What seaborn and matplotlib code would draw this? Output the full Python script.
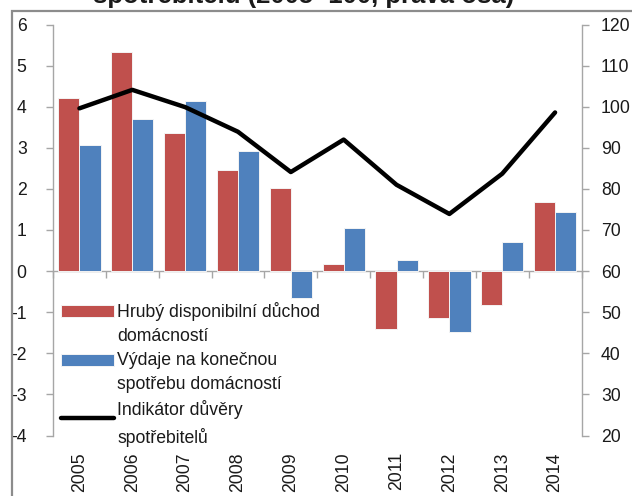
import matplotlib
matplotlib.use('Agg')
import matplotlib.pyplot as plt
import seaborn as sns
import numpy as np
import pandas as pd
from matplotlib.patches import Rectangle, Patch
from matplotlib.lines import Line2D
from matplotlib.legend_handler import HandlerPatch, HandlerLine2D

# ---- data ----
years = ['2005', '2006', '2007', '2008', '2009', '2010', '2011', '2012', '2013', '2014']
disp_income = [4.20, 5.33, 3.35, 2.47, 2.03, 0.17, -1.42, -1.14, -0.83, 1.67]
consumption = [3.07, 3.70, 4.14, 2.91, -0.66, 1.04, 0.28, -1.48, 0.70, 1.45]
confidence = [99.6, 104.1, 99.9, 93.9, 84.1, 92.0, 81.0, 73.9, 83.7, 98.6]

series_labels = ['Hrubý disponibilní důchod\ndomácností',
                 'Výdaje na konečnou\nspotřebu domácností',
                 'Indikátor důvěry\nspotřebitelů']
title_text = 'spotřebitelů (2005=100, pravá osa)'
left_ticks = list(range(-4, 7))
right_ticks = list(range(20, 121, 10))

RED = '#C0504D'
BLUE = '#4F81BD'
GRAY = '#a6a6a6'
TXT = '#1a1a1a'
FS = 12.7

sns.set_theme(style='white')
plt.rcParams['font.family'] = ['Liberation Sans', 'DejaVu Sans']

W, H = 632, 496
fig = plt.figure(figsize=(W / 100, H / 100), dpi=100)
fig.patch.set_facecolor('white')
L, R, T, B = 53, 581.5, 24.5, 435.5
ax = fig.add_axes([L / W, 1 - B / H, (R - L) / W, (B - T) / H])

df = pd.DataFrame({
    'year': years * 2,
    'value': disp_income + consumption,
    'series': [series_labels[0]] * len(years) + [series_labels[1]] * len(years),
})
sns.barplot(data=df, x='year', y='value', hue='series',
            palette=[RED, BLUE], saturation=1, width=0.8,
            edgecolor='#f4f4f4', linewidth=0.7, ax=ax, legend=False)
ax.set_ylim(-4, 6)
ax.set_yticks(left_ticks)
ax.set_yticklabels([str(t) for t in left_ticks])
ax.set_xlabel('')
ax.set_ylabel('')

ax2 = ax.twinx()
sns.lineplot(x=np.arange(len(years)), y=confidence, color='black',
             linewidth=3.2, ax=ax2)
ax2.set_ylim(20, 120)
ax2.set_yticks(right_ticks)
ax2.set_yticklabels([str(t) for t in right_ticks])
ax.set_xlim(-0.5, len(years) - 0.5)

# spines
for s in ['top', 'right', 'bottom']:
    ax.spines[s].set_visible(False)
ax.spines['left'].set_color(GRAY)
ax.spines['left'].set_linewidth(1.0)
for s in ['top', 'left', 'bottom']:
    ax2.spines[s].set_visible(False)
ax2.spines['right'].set_color(GRAY)
ax2.spines['right'].set_linewidth(1.0)

ax.tick_params(axis='y', left=True, direction='out', length=5, width=1,
               color=GRAY, pad=14, labelsize=FS, labelcolor=TXT)
ax2.tick_params(axis='y', right=True, direction='out', length=5, width=1,
                color=GRAY, pad=9, labelsize=FS, labelcolor=TXT)
ax.set_xticks(range(len(years)))
ax.set_xticklabels(years, rotation=90)
ax.tick_params(axis='x', bottom=True, length=0, pad=12, labelsize=FS,
               labelcolor=TXT)

# zero axis with category boundary ticks
sec = ax.secondary_xaxis(0, transform=ax.transData)
sec.set_xticks(np.arange(-0.5, len(years), 1.0))
sec.tick_params(axis='x', bottom=True, direction='out', length=5, width=1,
                color=GRAY, labelbottom=False)
sec.spines['bottom'].set_color(GRAY)
sec.spines['bottom'].set_linewidth(1.0)


# legend handles aligned with the first text line
SHIFT = 0.72 * FS


class UpPatch(HandlerPatch):
    def create_artists(self, legend, orig_handle, xdescent, ydescent,
                       width, height, fontsize, trans):
        return super().create_artists(legend, orig_handle, xdescent,
                                      ydescent - SHIFT, width, height,
                                      fontsize, trans)


class UpLine(HandlerLine2D):
    def create_artists(self, legend, orig_handle, xdescent, ydescent,
                       width, height, fontsize, trans):
        return super().create_artists(legend, orig_handle, xdescent,
                                      ydescent - SHIFT, width, height,
                                      fontsize, trans)


h_red = Patch(facecolor=RED, edgecolor='#f4f4f4', linewidth=0.7)
h_blue = Patch(facecolor=BLUE, edgecolor='#f4f4f4', linewidth=0.7)
h_line = Line2D([], [], color='black', linewidth=3.2)
leg = ax2.legend([h_red, h_blue, h_line], series_labels, loc='upper left',
                 bbox_to_anchor=((61 - L) / (R - L), (B - 302) / (B - T)),
                 frameon=False, fontsize=FS, handlelength=3.0,
                 handleheight=0.66, handletextpad=0.2, labelspacing=0.4,
                 borderpad=0, borderaxespad=0,
                 handler_map={Patch: UpPatch(), Line2D: UpLine()})
for t in leg.get_texts():
    t.set_color(TXT)
    t.set_linespacing(1.55)

# title (partly cut off at top, as in the source) and outer frame
fig.text(93 / W, 1 - 3.5 / H, title_text, ha='left', va='baseline',
         fontsize=18.5, fontweight='bold', color=TXT)
frame = Rectangle((12 / W, -0.5), 2.0, (1 - 11 / H) + 0.5,
                  transform=fig.transFigure, fill=False,
                  edgecolor='#8c8c8c', linewidth=1.6)
fig.add_artist(frame)

fig.savefig('out.png', dpi=100)
